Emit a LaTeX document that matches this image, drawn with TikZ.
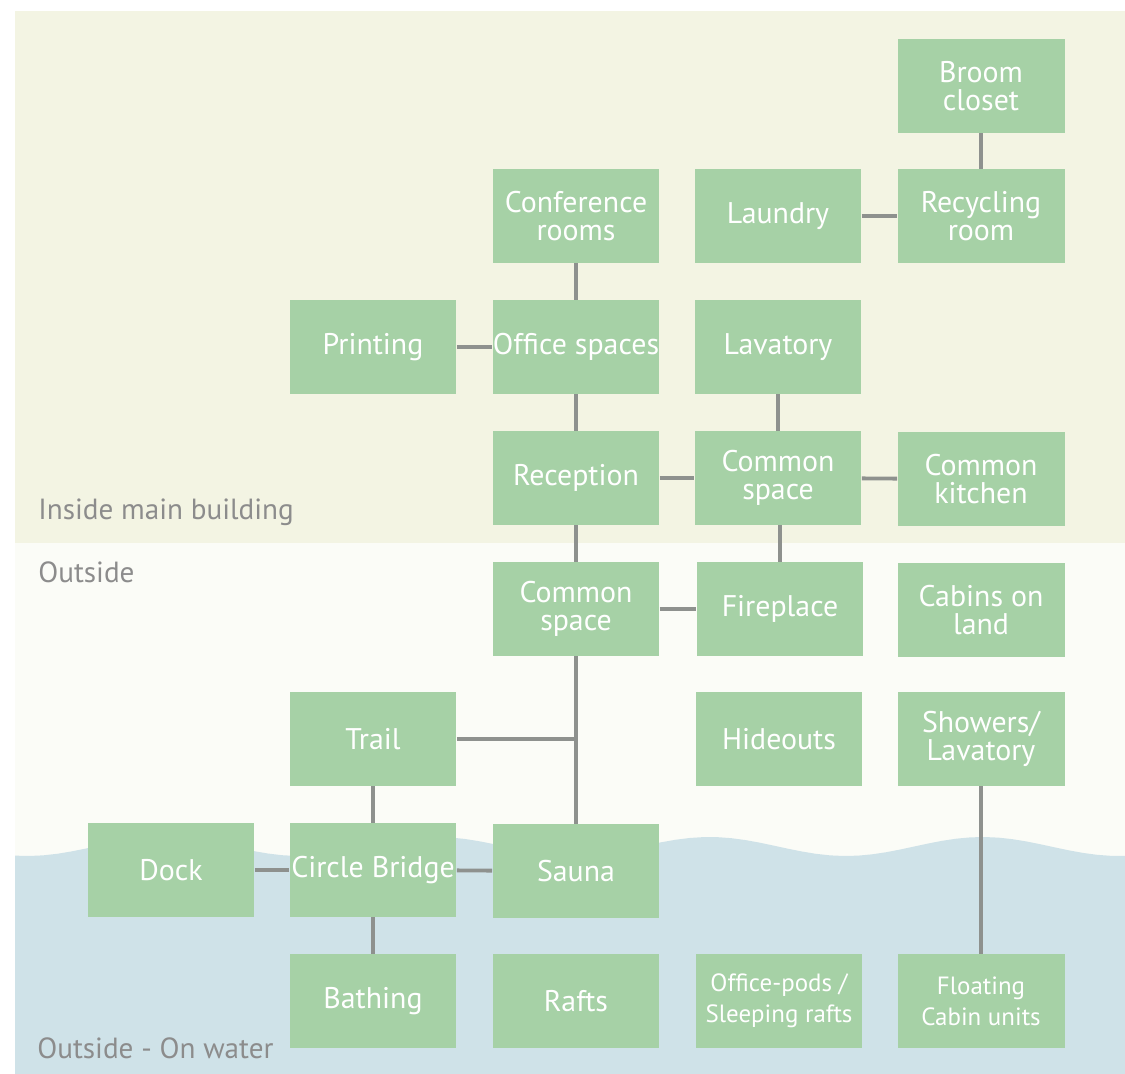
\documentclass[tikz,border=0pt]{standalone}
\usepackage{fontspec}
\setmainfont{PT Sans}
\usetikzlibrary{positioning}
\definecolor{insidebg}{HTML}{F3F4E3}
\definecolor{outsidebg}{HTML}{FBFCF7}
\definecolor{waterbg}{HTML}{CFE2E8}
\definecolor{boxgreen}{HTML}{A6D1A6}
\definecolor{linegray}{HTML}{8E918E}
\definecolor{zonegray}{HTML}{8C8C8C}
\tikzset{
    room/.style = {rectangle, fill=boxgreen, minimum width=3.34cm, minimum height=1.88cm, inner sep=0pt, align=center, font=\fontsize{17}{16}\selectfont, text=white},
    roomsm/.style = {room, font=\fontsize{14.2}{17.6}\selectfont},
    zone/.style = {anchor=base west, inner sep=0pt, text=zonegray, font=\fontsize{16.6}{18}\selectfont},
    edgel/.style = {-, line width=2.2pt, linegray},
}

\begin{document}
\begin{tikzpicture}[x=0.02cm,y=-0.02cm]
\path[use as bounding box] (0,0) rectangle (1125,1074);
% zones
\fill[insidebg] (15,11) rectangle (1125,543);
\fill[outsidebg] (15,543) rectangle (1125,860);
\fill[waterbg] (15,1074) -- plot[domain=15:1125, samples=80] (\x, {846.5+9.5*cos((\x-846)*1.3187)}) -- (1125,1074) -- cycle;
\node[zone] at (38,519) (lblin) {Inside main building};
\node[zone] at (38,582) (lblout) {Outside};
\node[zone] at (37,1058) (lblwater) {Outside - On water};

% inside main building
\node[room] at (981,86) (broom) {Broom\\closet};
\node[room] at (778,216) (laundry) {Laundry};
\node[room] at (981,216) (recycle) {Recycling\\room};
\node[room] at (576,216) (conf) {Conference\\rooms};
\node[room] at (373,347) (print) {Printing};
\node[room] at (576,347) (office) {Office spaces};
\node[room] at (778,347) (lav) {Lavatory};
\node[room] at (576,478) (recep) {Reception};
\node[room] at (778,478) (csi) {Common\\space};
\node[room] at (981,479) (kitchen) {Common\\kitchen};

% outside
\node[room] at (576,609) (cso) {Common\\space};
\node[room] at (780,609) (fire) {Fireplace};
\node[room] at (981,610) (cabins) {Cabins on\\land};
\node[room] at (373,739) (trail) {Trail};
\node[room] at (779,739) (hide) {Hideouts};
\node[room] at (981,739) (shower) {Showers/\\Lavatory};

% on water
\node[room] at (171,870) (dock) {Dock};
\node[room] at (373,870) (bridge) {Circle Bridge};
\node[room] at (576,871) (sauna) {Sauna};
\node[room] at (373,1001) (bath) {Bathing};
\node[room] at (576,1001) (rafts) {Rafts};
\node[roomsm] at (779,1001) (pods) {Office-pods /\\Sleeping rafts};
\node[roomsm] at (981,1001) (float) {Floating\\Cabin units};
%
\draw[edgel] (broom) edge (recycle);
\draw[edgel] (laundry) edge (recycle);
\draw[edgel] (conf) edge (office);
\draw[edgel] (print) edge (office);
\draw[edgel] (office) edge (recep);
\draw[edgel] (lav) edge (csi);
\draw[edgel] (recep) edge (csi);
\draw[edgel] (csi) edge (kitchen);
\draw[edgel] (recep) edge (cso);
\draw[edgel] (csi.south -| fire) edge (fire);
\draw[edgel] (cso) edge (fire);
\draw[edgel] (cso) edge (sauna);
\draw[edgel] (trail.east) edge (trail.east -| cso);
\draw[edgel] (trail) edge (bridge);
\draw[edgel] (dock) edge (bridge);
\draw[edgel] (bridge) edge (sauna);
\draw[edgel] (bridge) edge (bath);
\draw[edgel] (shower) edge (float);

\end{tikzpicture}
\end{document}
